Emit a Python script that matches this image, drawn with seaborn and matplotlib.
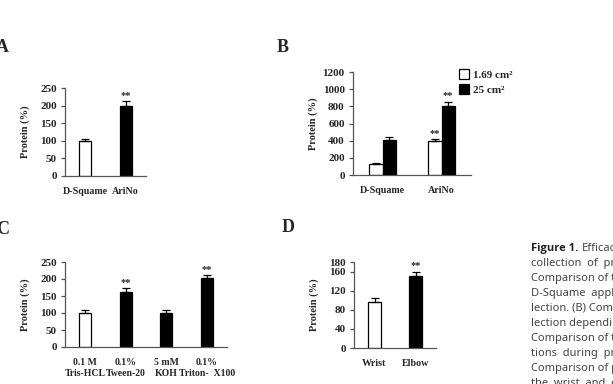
import numpy as np
import pandas as pd
import seaborn as sns
import matplotlib
matplotlib.use('Agg')
import matplotlib.pyplot as plt

# panel A: collection method
a_methods = ['D-Squame', 'AriNo']
a_protein = [100, 200]
a_err = [4, 13]
a_stars = ['', '**']

# panel B: method x collection area
b_methods = ['D-Squame', 'AriNo']
b_areas = ['1.69 cm²', '25 cm²']
b_small = [128, 398]
b_small_err = [8, 18]
b_large = [406, 804]
b_large_err = [32, 50]
b_small_stars = ['', '**']
b_large_stars = ['', '**']

# panel C: buffer solution
c_buffers = ['0.1 M\nTris-HCL', '0.1%\nTween-20', '5 mM\nKOH', '0.1%\nTriton-  X100']
c_protein = [101, 163, 100, 203]
c_err = [8, 10, 8, 8]
c_stars = ['', '**', '', '**']

# panel D: body site
d_sites = ['Wrist', 'Elbow']
d_protein = [97, 151]
d_err = [7, 9]
d_stars = ['', '**']

caption = ['collection  of  proteins', 'Comparison of the', 'D-Squame  applied',
           'lection. (B) Comparison', 'lection depending on', 'Comparison of the',
           'tions  during  protein', 'Comparison of protein', 'the  wrist  and  elbow']

sns.set_style('white')
plt.rcParams['font.family'] = ['Liberation Serif', 'DejaVu Serif']
plt.rcParams['font.weight'] = 'bold'

W, H = 613, 384
fig = plt.figure(figsize=(W / 100, H / 100), dpi=100)


def px_axes(x0, y0, x1, y1):
    return fig.add_axes([x0 / W, 1 - y1 / H, (x1 - x0) / W, (y1 - y0) / H])


def style_axes(ax, n, ylim, yticks, axw, xsize=7.2):
    ax.set_xlim(-0.5, n - 0.5)
    ax.set_ylim(*ylim)
    ax.set_yticks(yticks)
    sns.despine(ax=ax)
    for s in ['left', 'bottom']:
        ax.spines[s].set_color('#555555')
        ax.spines[s].set_linewidth(0.9)
    ax.set_xticks(np.arange(0.5, n, 1), minor=True)
    ax.tick_params(axis='x', which='major', length=0, pad=8, labelsize=xsize)
    ax.tick_params(axis='x', which='minor', direction='in', length=3.5,
                   color='#555555', width=0.9)
    ax.tick_params(axis='y', which='major', direction='out', length=3,
                   color='#555555', width=0.9, pad=3, labelsize=8, left=True)
    for lab in ax.get_xticklabels() + ax.get_yticklabels():
        lab.set_fontweight('bold')
    ax.set_xlabel('')
    ax.set_ylabel('Protein (%)', fontsize=7.5, fontweight='bold')
    ax.yaxis.set_label_coords(-35 / axw, 0.5)


def add_errors(ax, container, errs, stars):
    xs = [b.get_x() + b.get_width() / 2 for b in container]
    hs = [b.get_height() for b in container]
    ax.errorbar(xs, hs, yerr=[[0] * len(errs), errs], fmt='none', ecolor='black',
                elinewidth=0.9, capsize=3, capthick=0.9)
    for x, h, e, s in zip(xs, hs, errs, stars):
        if s:
            ax.annotate(s, (x, h + e), xytext=(0, 1), textcoords='offset points',
                        ha='center', va='bottom', fontsize=7.5, fontweight='bold')


def simple_panel(ax, cats, vals, errs, stars, colors, ylim, yticks, width, axw,
                 xsize=7.2):
    df = pd.DataFrame({'cat': cats, 'val': vals})
    sns.barplot(data=df, x='cat', y='val', hue='cat', palette=colors, width=width,
                edgecolor='black', linewidth=0.9, legend=False, ax=ax)
    style_axes(ax, len(cats), ylim, yticks, axw, xsize)
    patches = sorted(ax.patches, key=lambda p: p.get_x())
    add_errors(ax, patches, errs, stars)


# A
axA = px_axes(65, 88, 146, 176)
simple_panel(axA, a_methods, a_protein, a_err, a_stars, ['white', 'black'],
             (0, 250), range(0, 251, 50), 0.3, 81)

# B
axB = px_axes(353, 72, 471, 175)
dfB = pd.DataFrame({'method': b_methods * 2,
                    'area': [b_areas[0]] * 2 + [b_areas[1]] * 2,
                    'val': b_small + b_large})
sns.barplot(data=dfB, x='method', y='val', hue='area', palette=['white', 'black'],
            width=0.45, edgecolor='black', linewidth=0.9, ax=axB)
style_axes(axB, 2, (0, 1200), range(0, 1201, 200), 118)
add_errors(axB, axB.containers[0], b_small_err, b_small_stars)
add_errors(axB, axB.containers[1], b_large_err, b_large_stars)
handles, labels = axB.get_legend_handles_labels()
axB.legend(handles, labels, loc='upper left', bbox_to_anchor=(459 / W, 1 - 69 / H),
           bbox_transform=fig.transFigure, frameon=False, handlelength=0.9,
           handleheight=0.95, handletextpad=0.4, labelspacing=0.4, borderpad=0,
           borderaxespad=0, prop={'size': 8, 'weight': 'bold'})

# C
axC = px_axes(65, 262, 227, 347)
simple_panel(axC, c_buffers, c_protein, c_err, c_stars,
             ['white', 'black', 'black', 'black'],
             (0, 250), range(0, 251, 50), 0.3, 162, xsize=7)

# D
axD = px_axes(354, 262, 436, 348)
simple_panel(axD, d_sites, d_protein, d_err, d_stars, ['white', 'black'],
             (0, 180), [0, 40, 80, 120, 160, 180], 0.31, 82)

# panel letters
for letter, x, y in [('A', -4, 48), ('B', 277, 47), ('C', -4, 230), ('D', 282, 228)]:
    fig.text(x / W, 1 - y / H, letter, fontsize=13, fontweight='bold',
             ha='left', va='center')

# caption (cut off at the right edge, as in the source figure)
cap_font = ['Noto Sans', 'DejaVu Sans']
cap_size = 8
head = fig.text(531 / W, 1 - 249 / H, 'Figure 1.', fontsize=cap_size,
                fontweight='bold', family=['Open Sans', 'DejaVu Sans'],
                color='#222222', va='center')
fig.canvas.draw()
head_end = head.get_window_extent().x1
fig.text((head_end + 4) / W, 1 - 249 / H, 'Efficacy', fontsize=cap_size,
         fontweight='normal', family=cap_font, color='#444444', va='center')
for i, line in enumerate(caption):
    fig.text(531 / W, 1 - (249 + 14.9 * (i + 1)) / H, line, fontsize=cap_size,
             fontweight='normal', family=cap_font, color='#444444', va='center')

fig.savefig('out.png', dpi=100)
